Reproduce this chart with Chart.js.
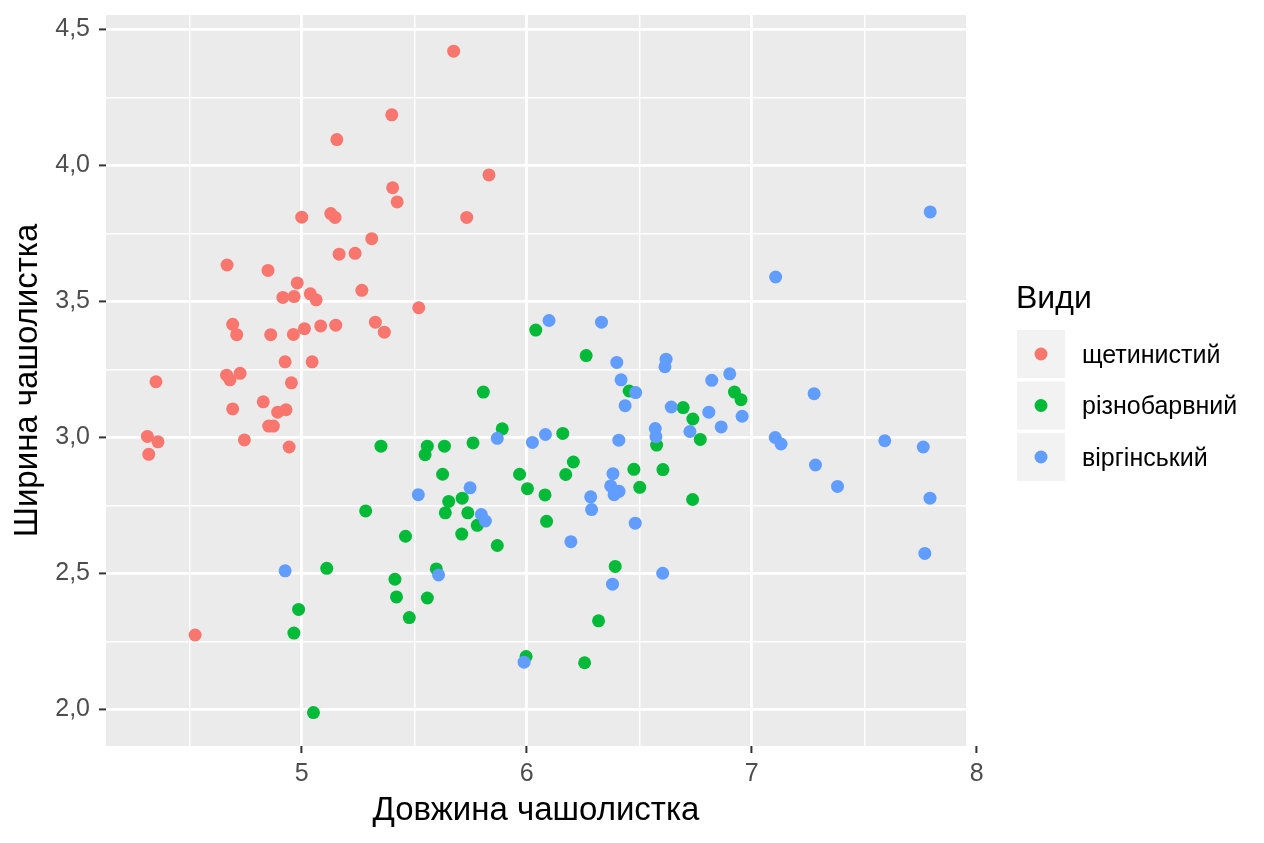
<!DOCTYPE html>
<html>
<head>
<meta charset="utf-8">
<script src="https://cdn.jsdelivr.net/npm/chart.js"></script>
<style>
  html, body { margin: 0; padding: 0; background: #fff; }
  #wrap { width: 1264px; height: 843px; position: relative; }
</style>
</head>
<body>
<div id="wrap"><canvas id="chart"></canvas></div>
<script>
  const speciesNames = ['щетинистий', 'різнобарвний', 'віргінський'];
  const speciesColors = ['#F8766D', '#00BA38', '#619CFF'];

  const setosaX = [5.675, 5.400, 5.156, 5.832, 5.404, 5.424, 5.000, 5.129, 5.148, 5.733,
    5.311, 5.166, 5.237, 4.668, 4.850, 4.980, 5.267, 4.916, 4.966, 5.038,
    5.064, 5.520, 4.693, 4.711, 4.862, 4.963, 5.012, 5.084, 5.151, 5.327,
    5.367, 4.926, 5.046, 4.352, 4.666, 4.681, 4.726, 4.954, 4.693, 4.829,
    4.893, 4.930, 4.853, 4.874, 4.314, 4.361, 4.320, 4.745, 4.944, 4.526];
  const setosaY = [4.420, 4.186, 4.095, 3.965, 3.918, 3.866, 3.810, 3.823, 3.809, 3.809,
    3.731, 3.674, 3.677, 3.634, 3.614, 3.568, 3.541, 3.515, 3.518, 3.528,
    3.506, 3.477, 3.416, 3.378, 3.378, 3.379, 3.400, 3.410, 3.413, 3.424,
    3.387, 3.278, 3.278, 3.205, 3.229, 3.212, 3.236, 3.201, 3.105, 3.131,
    3.093, 3.102, 3.042, 3.042, 3.004, 2.984, 2.938, 2.991, 2.965, 2.274];

  const versicolorX = [6.040, 6.264, 5.807, 5.891, 6.160, 5.352, 5.558, 5.548, 5.634, 5.761,
    6.207, 5.626, 5.968, 6.173, 6.003, 6.081, 5.653, 5.713, 5.638, 5.738,
    5.780, 6.088, 5.284, 5.461, 5.711, 5.111, 5.869, 5.414, 5.421, 5.558,
    5.478, 5.598, 4.986, 4.965, 5.052, 6.502, 6.737, 6.393, 6.319, 5.997,
    6.257, 6.455, 6.923, 6.952, 6.695, 6.738, 6.771, 6.577, 6.476, 6.605];
  const versicolorY = [3.395, 3.301, 3.167, 3.032, 3.015, 2.968, 2.968, 2.937, 2.968, 2.980,
    2.910, 2.865, 2.865, 2.864, 2.812, 2.789, 2.765, 2.777, 2.723, 2.723,
    2.677, 2.692, 2.730, 2.637, 2.645, 2.519, 2.603, 2.479, 2.414, 2.410,
    2.338, 2.517, 2.368, 2.281, 1.989, 2.817, 2.772, 2.526, 2.326, 2.195,
    2.172, 3.171, 3.167, 3.139, 3.110, 3.068, 2.993, 2.972, 2.883, 2.882];

  const virginicaX = [6.099, 5.869, 6.025, 6.083, 5.748, 5.518, 5.798, 5.816, 4.926, 5.608,
    6.284, 6.288, 6.373, 6.388, 6.410, 6.196, 6.482, 6.381, 6.604, 5.988,
    6.332, 6.400, 6.619, 6.614, 6.419, 6.484, 6.437, 6.822, 6.902, 6.957,
    6.642, 6.809, 6.864, 6.725, 6.571, 6.574, 6.409, 7.104, 7.130, 6.383,
    7.793, 7.106, 7.277, 7.283, 7.381, 7.591, 7.762, 7.792, 7.769, 6.395];
  const virginicaY = [3.430, 2.997, 2.982, 3.011, 2.815, 2.790, 2.717, 2.693, 2.510, 2.495,
    2.782, 2.735, 2.822, 2.790, 2.802, 2.617, 2.685, 2.461, 2.501, 2.174,
    3.424, 3.276, 3.288, 3.260, 3.212, 3.165, 3.117, 3.210, 3.234, 3.078,
    3.112, 3.093, 3.039, 3.022, 3.033, 3.003, 2.990, 3.000, 2.976, 2.867,
    3.829, 3.590, 3.161, 2.899, 2.820, 2.988, 2.965, 2.777, 2.574, 2.796];

  const xMajorTicks = [5, 6, 7, 8];
  const xMinorTicks = [4.5, 5.5, 6.5, 7.5];
  const yMajorTicks = [2.0, 2.5, 3.0, 3.5, 4.0, 4.5];
  const yMinorTicks = [2.25, 2.75, 3.25, 3.75, 4.25];

  const xTitle = 'Довжина чашолистка';
  const yTitle = 'Ширина чашолистка';
  const legendTitle = 'Види';

  const FONT = "'Liberation Sans', Arial, sans-serif";

  const toPoints = (xs, ys) => xs.map((x, i) => ({ x: x, y: ys[i] }));
  const fmt = (v) => v.toFixed(1).replace('.', ',');
  const isMajor = (list, v) => list.some(m => Math.abs(m - v) < 1e-9);

  const panelBg = {
    id: 'panelBg',
    beforeDraw(chart) {
      const { ctx, chartArea: a } = chart;
      ctx.save();
      ctx.fillStyle = '#EBEBEB';
      ctx.fillRect(a.left, a.top, a.right - a.left, a.bottom - a.top);
      ctx.restore();
    }
  };

  const sideLegend = {
    id: 'sideLegend',
    afterDraw(chart) {
      const ctx = chart.ctx;
      ctx.save();
      ctx.fillStyle = '#000';
      ctx.font = `32px ${FONT}`;
      ctx.textBaseline = 'middle';
      ctx.textAlign = 'left';
      ctx.fillText(legendTitle, 1016, 299);
      chart.data.datasets.forEach((ds, i) => {
        const top = 330 + i * 51.5;
        ctx.fillStyle = '#F2F2F2';
        ctx.fillRect(1017, top, 48, 48);
        ctx.fillStyle = ds.backgroundColor;
        ctx.beginPath();
        ctx.arc(1041, top + 24, 6.5, 0, Math.PI * 2);
        ctx.fill();
        ctx.fillStyle = '#000';
        ctx.font = `25px ${FONT}`;
        ctx.fillText(ds.label, 1082, top + 26);
      });
      ctx.restore();
    }
  };

  const gridStyle = (majors) => ({
    color: '#FFFFFF',
    lineWidth: (c) => isMajor(majors, c.tick.value) ? 2.8 : 1.4,
    tickColor: (c) => isMajor(majors, c.tick.value) ? '#333333' : 'rgba(0,0,0,0)',
    tickLength: 7,
    tickWidth: 2,
    drawOnChartArea: true
  });

  new Chart(document.getElementById('chart'), {
    type: 'scatter',
    data: {
      datasets: [
        { label: speciesNames[0], data: toPoints(setosaX, setosaY), backgroundColor: speciesColors[0], order: 3 },
        { label: speciesNames[1], data: toPoints(versicolorX, versicolorY), backgroundColor: speciesColors[1], order: 2 },
        { label: speciesNames[2], data: toPoints(virginicaX, virginicaY), backgroundColor: speciesColors[2], order: 1 }
      ]
    },
    options: {
      responsive: true,
      maintainAspectRatio: false,
      animation: false,
      layout: { padding: { left: 0, top: 15, right: 298, bottom: 0 } },
      elements: { point: { radius: 6.5, borderWidth: 0, hoverRadius: 6.5 } },
      plugins: { legend: { display: false }, tooltip: { enabled: false } },
      scales: {
        x: {
          type: 'linear',
          min: 4.13,
          max: 7.952,
          border: { display: false },
          grid: gridStyle(xMajorTicks),
          afterBuildTicks: (s) => {
            s.ticks = [...xMinorTicks, ...xMajorTicks].sort((a, b) => a - b).map(v => ({ value: v }));
          },
          afterFit: (s) => { s.height = 97; s.paddingLeft = 0; s.paddingRight = 0; },
          ticks: {
            autoSkip: false,
            maxRotation: 0,
            padding: 6,
            color: '#4D4D4D',
            font: { family: FONT, size: 25 },
            callback: (v) => isMajor(xMajorTicks, v) ? String(v) : ''
          },
          title: {
            display: true,
            text: xTitle,
            color: '#000',
            font: { family: FONT, size: 33 },
            padding: { top: 0, bottom: 12 }
          }
        },
        y: {
          type: 'linear',
          min: 1.866,
          max: 4.553,
          border: { display: false },
          grid: gridStyle(yMajorTicks),
          afterBuildTicks: (s) => {
            s.ticks = [...yMajorTicks, ...yMinorTicks].sort((a, b) => a - b).map(v => ({ value: v }));
          },
          afterFit: (s) => { s.width = 106; s.paddingTop = 0; s.paddingBottom = 0; },
          ticks: {
            autoSkip: false,
            padding: 9,
            color: '#4D4D4D',
            font: { family: FONT, size: 25 },
            callback: (v) => isMajor(yMajorTicks, v) ? fmt(v) : ''
          },
          title: {
            display: true,
            text: yTitle,
            color: '#000',
            font: { family: FONT, size: 33 },
            padding: { top: 8, bottom: 0 }
          }
        }
      }
    },
    plugins: [panelBg, sideLegend]
  });
</script>
</body>
</html>
